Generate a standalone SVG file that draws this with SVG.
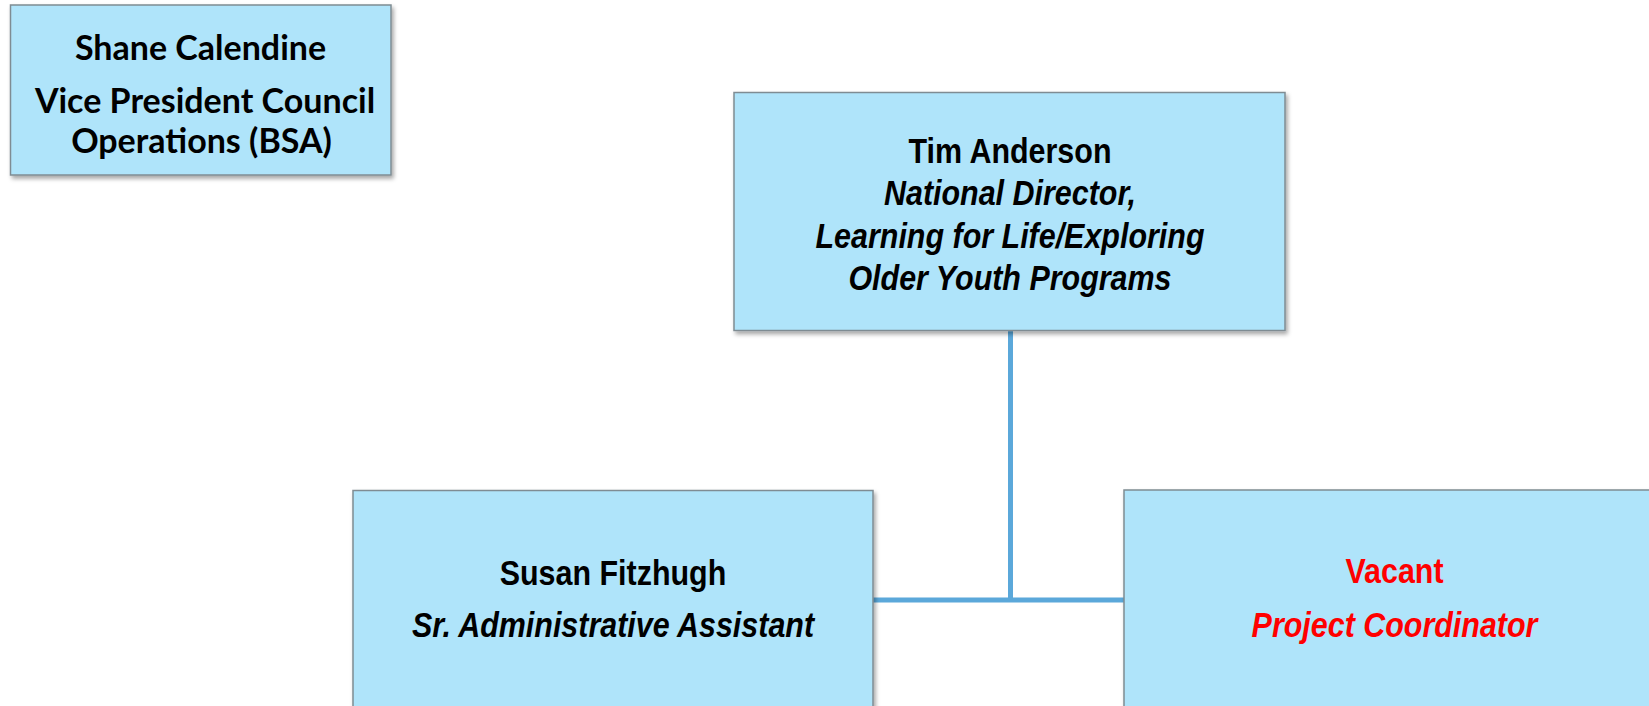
<svg xmlns="http://www.w3.org/2000/svg" width="1649" height="706" viewBox="0 0 1649 706">
<style>
.box{fill:#AFE4FA;stroke:#7F8C93;stroke-width:1.5;filter:url(#sh)}
.conn{fill:none;stroke:#5BA8DA;stroke-width:5}
.cal{font-family:Lato,"Open Sans","Liberation Sans",sans-serif;font-weight:bold;font-size:34px;fill:#000;text-anchor:middle}
.ar{font-family:"Liberation Sans",Arial,sans-serif;font-size:35px;font-weight:bold;fill:#000;text-anchor:middle}
.it{font-style:italic}
.red{fill:#FF0000}
</style>
<defs>
<filter id="sh" x="-5%" y="-5%" width="115%" height="120%">
<feDropShadow dx="2" dy="3" stdDeviation="2" flood-color="#000" flood-opacity="0.35"/>
</filter>
</defs>
<rect width="1649" height="706" fill="#FFFFFF"/>
<g id="connectors">
<path class="conn" d="M1010.5 331 V600 M873 600 H1124"/>
</g>
<g id="shane">
<rect class="box" x="10.5" y="5" width="380.5" height="170"/>
<text class="cal" x="200.5" y="60">Shane Calendine</text>
<text class="cal" x="205" y="113">Vice President Council</text>
<text class="cal" x="201.5" y="153">Operations (BSA)</text>
</g>
<g id="tim">
<rect class="box" x="734" y="92.5" width="551" height="238"/>
<g transform="translate(1010,0) scale(0.87,1)">
<text class="ar" x="0" y="163">Tim Anderson</text>
<text class="ar it" x="0" y="205">National Director,</text>
<text class="ar it" x="0" y="248">Learning for Life/Exploring</text>
<text class="ar it" x="0" y="290">Older Youth Programs</text>
</g>
</g>
<g id="susan">
<rect class="box" x="353" y="490.5" width="520" height="230"/>
<g transform="translate(613,0) scale(0.87,1)">
<text class="ar" x="0" y="585">Susan Fitzhugh</text>
<text class="ar it" x="0" y="637">Sr. Administrative Assistant</text>
</g>
</g>
<g id="vacant">
<rect class="box" x="1124" y="490" width="542" height="230"/>
<g transform="translate(1394.5,0) scale(0.87,1)">
<text class="ar red" x="0" y="583">Vacant</text>
<text class="ar it red" x="0" y="637">Project Coordinator</text>
</g>
</g>
</svg>
